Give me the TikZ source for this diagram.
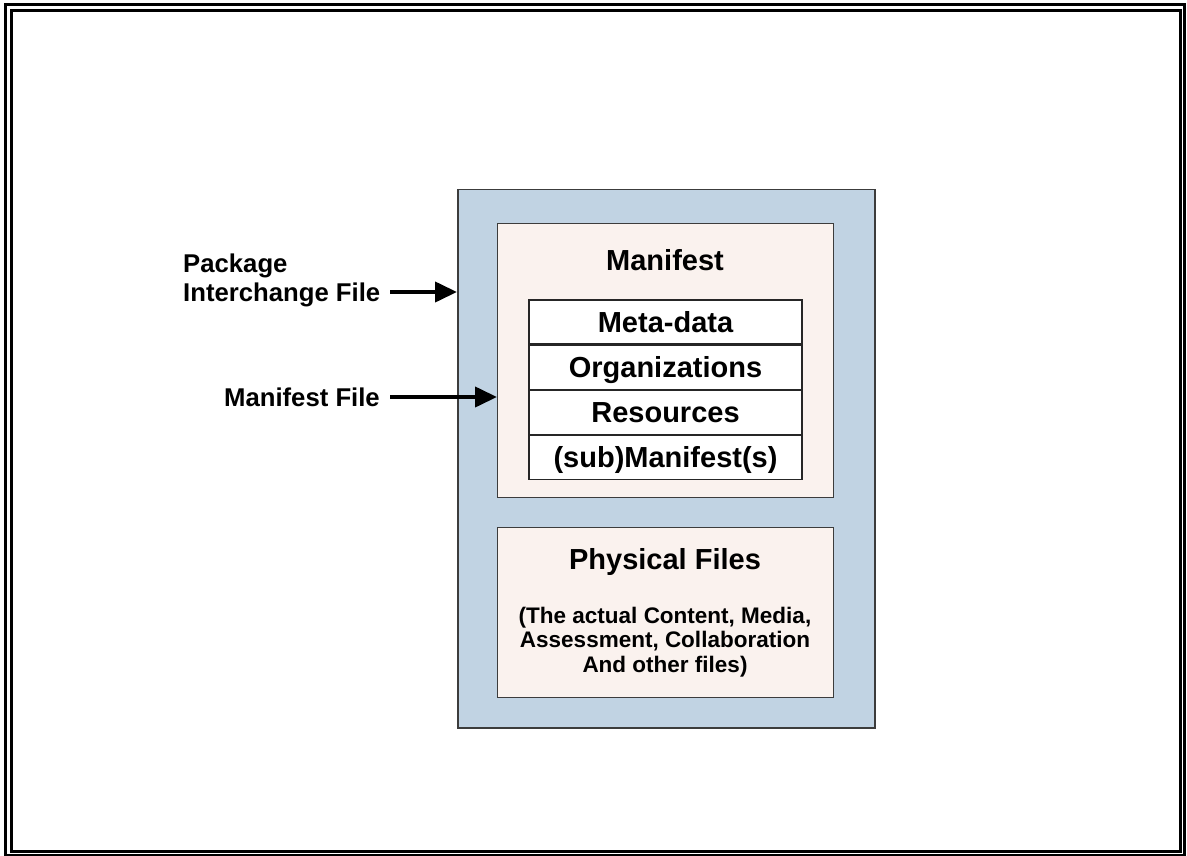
\documentclass[tikz,border=0pt]{standalone}
\usepackage{fontspec}
\setmainfont{Liberation Sans}
\usetikzlibrary{arrows.meta,positioning}
\definecolor{pifblue}{RGB}{193,211,227}
\definecolor{paper}{RGB}{250,242,238}
\definecolor{edge}{RGB}{60,60,60}
\tikzset{
  x=1pt, y=-1pt,
  frameline/.style={draw=black, line width=3pt},
  pifbox/.style={draw=edge, fill=pifblue, line width=1.5pt, inner sep=0pt},
  partbox/.style={draw=edge, fill=paper, line width=1.3pt, inner sep=0pt},
  rowbox/.style={draw=black!85, fill=white, line width=1.2pt, inner sep=0pt,
    minimum width=273pt, minimum height=44pt, text height=20pt, text depth=0pt,
    font=\fontsize{29}{30}\selectfont\bfseries},
  title/.style={inner sep=0pt, font=\fontsize{29}{30}\selectfont\bfseries},
  sidelabel/.style={inner sep=0pt, align=left, font=\fontsize{25.7}{29}\selectfont\bfseries},
  note/.style={inner sep=0pt, align=center, font=\fontsize{22.5}{24.5}\selectfont\bfseries},
  pointer/.style={line width=4pt, -{Triangle[length=22pt,width=20pt]}}
}
\begin{document}
\begin{tikzpicture}
\useasboundingbox (0,0) rectangle (1187,856);
% double page frame
\draw[frameline] (5,5) rectangle (1184,855);
\draw[frameline] (11,11) rectangle (1180.5,851.5);

% package interchange file
\node[pifbox, minimum width=417pt, minimum height=538pt, anchor=north west] (pif) at (457,189) {};

% manifest part
\node[partbox, minimum width=336pt, minimum height=274pt, anchor=north west] (man) at (497,223) {};
\node[title, anchor=base] (mantitle) at (665,270) {Manifest};
\node[rowbox] (meta) at (665.5,322) {Meta-data};
\node[rowbox, below=0pt of meta] (orgs) {Organizations};
\node[rowbox, below=0pt of orgs] (res) {Resources};
\node[rowbox, below=0pt of res] (sub) {(sub)Manifest(s)};

% physical files part (base anchors sit on the last line of multi-line text)
\node[partbox, minimum width=336pt, minimum height=170pt, anchor=north west] (phys) at (497,527) {};
\node[title, anchor=base] (phystitle) at (665,569) {Physical Files};
\node[note, anchor=base] (physnote) at (665,672) {(The actual Content, Media,\\Assessment, Collaboration\\And other files)};

% side labels and pointers
\node[sidelabel, anchor=base west] (lblpif) at (183,301) {Package\\Interchange File};
\node[sidelabel, anchor=base east] (lblman) at (380,406) {Manifest File};
\coordinate (p1) at (390,292);
\coordinate (p2) at (390,397);
\draw[pointer] (p1) -- (pif.west |- p1);
\draw[pointer] (p2) -- (man.west |- p2);
\end{tikzpicture}
\end{document}
